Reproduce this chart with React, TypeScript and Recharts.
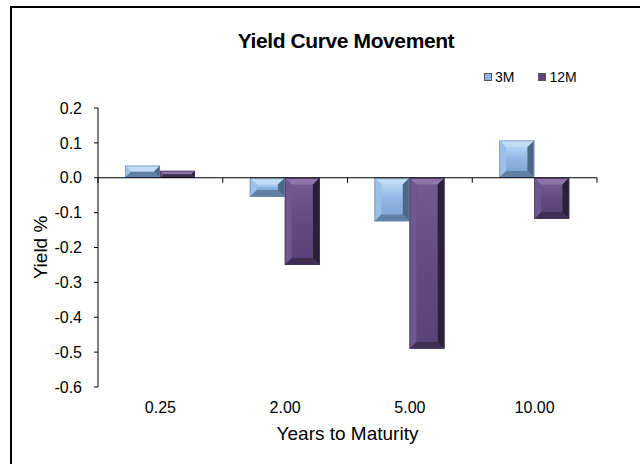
import React from "react";
import { BarChart, Bar, XAxis, YAxis, ReferenceLine } from "recharts";

const CATEGORIES = ["0.25", "2.00", "5.00", "10.00"];
const SERIES_3M = [0.035, -0.055, -0.125, 0.107];
const SERIES_12M = [0.02, -0.25, -0.49, -0.118];
const Y_TICKS = [0.2, 0.1, 0, -0.1, -0.2, -0.3, -0.4, -0.5, -0.6];

const data = CATEGORIES.map((c, i) => ({ maturity: c, m3: SERIES_3M[i], m12: SERIES_12M[i] }));

const FONT = "'Liberation Sans', Arial, sans-serif";

// bevel palettes, Excel-ish "cool slant" look
const BLUE = { face: "#8fb6e3", top: "#c3dcf6", left: "#9dc0e8", right: "#4b6887", bottom: "#5f7fa3", edge: "#6f8fb3", id: "g3m", hi: "#b4d4f5" };
const PURPLE = { face: "#634b80", top: "#8e76aa", left: "#6f5890", right: "#2b2038", bottom: "#3f3053", edge: "#4a3862", id: "g12m", hi: "#705a8e" };

function bevel(p: typeof BLUE) {
  return (props: any) => {
    let { x, y, width: w, height: h } = props;
    if (h < 0) {
      y += h;
      h = -h;
    }
    if (!w || !h) return <g />;
    const b = Math.min(7, w / 2, h / 2);
    const x2 = x + w;
    const y2 = y + h;
    return (
      <g>
        <rect x={x} y={y} width={w} height={h} fill={p.face} />
        <polygon points={`${x},${y} ${x2},${y} ${x2 - b},${y + b} ${x + b},${y + b}`} fill={p.top} />
        <polygon points={`${x},${y} ${x + b},${y + b} ${x + b},${y2 - b} ${x},${y2}`} fill={p.left} />
        <polygon points={`${x2},${y} ${x2},${y2} ${x2 - b},${y2 - b} ${x2 - b},${y + b}`} fill={p.right} />
        <polygon points={`${x},${y2} ${x + b},${y2 - b} ${x2 - b},${y2 - b} ${x2},${y2}`} fill={p.bottom} />
        <rect x={x + b} y={y + b} width={Math.max(0, w - 2 * b)} height={Math.max(0, h - 2 * b)} fill={`url(#${p.id})`} />
        <rect x={x + 0.5} y={y + 0.5} width={w - 1} height={h - 1} fill="none" stroke={p.edge} strokeWidth={0.6} />
      </g>
    );
  };
}

// zero line doubles as the category axis: line + tick marks between groups
const ZeroAxis = (props: any) => {
  const { x1, y1, x2 } = props;
  if (x1 == null) return <g />;
  const n = CATEGORIES.length;
  const step = (x2 - x1) / n;
  return (
    <g>
      <line x1={x1} y1={y1} x2={x2} y2={y1} stroke="#000" strokeWidth={1} />
      {Array.from({ length: n + 1 }, (_, i) => (
        <line key={i} x1={x1 + i * step} y1={y1} x2={x1 + i * step} y2={y1 + 5} stroke="#000" strokeWidth={1} />
      ))}
    </g>
  );
};

const LegendItem = ({ color, label }: { color: string; label: string }) => (
  <span style={{ display: "inline-flex", alignItems: "center", marginRight: 24 }}>
    <span style={{ width: 6, height: 6, background: color, border: "0.5px solid #555", marginRight: 3 }} />
    {label}
  </span>
);

export default function App() {
  return (
    <div style={{ position: "absolute", left: 0, top: 0, width: 640, height: 464, background: "#fff", overflow: "hidden", fontFamily: FONT }}>
      <div style={{ position: "absolute", left: 10, top: 6, width: 700, height: 500, borderLeft: "2px solid #000", borderTop: "2px solid #000" }} />
      <div style={{ position: "absolute", left: 10, width: 672, top: 29, textAlign: "center", fontWeight: "bold", fontSize: 21, letterSpacing: -0.4 }}>
        Yield Curve Movement
      </div>
      <div style={{ position: "absolute", left: 484, top: 69, fontSize: 14, display: "flex" }}>
        <LegendItem color="#8fb6e3" label="3M" />
        <LegendItem color="#5a4478" label="12M" />
      </div>
      <BarChart
        width={640}
        height={464}
        data={data}
        margin={{ top: 108, right: 43, left: 0, bottom: 47 }}
        barSize={35}
        barGap={0}
        style={{ position: "absolute", left: 0, top: 0 }}
      >
        <defs>
          <linearGradient id="g3m" x1="0" y1="0" x2="0" y2="1">
            <stop offset="0" stopColor={BLUE.hi} />
            <stop offset="0.5" stopColor={BLUE.face} />
            <stop offset="1" stopColor="#82a8d5" />
          </linearGradient>
          <linearGradient id="g12m" x1="0" y1="0" x2="0" y2="1">
            <stop offset="0" stopColor={PURPLE.hi} />
            <stop offset="0.5" stopColor={PURPLE.face} />
            <stop offset="1" stopColor="#5a4477" />
          </linearGradient>
        </defs>
        <XAxis
          dataKey="maturity"
          axisLine={false}
          tickLine={false}
          tickSize={6}
          tickMargin={9}
          height={30}
          tick={{ fill: "#000", fontSize: 16, fontFamily: FONT }}
          label={{ value: "Years to Maturity", position: "bottom", offset: 10, fill: "#000", fontSize: 19, fontFamily: FONT }}
        />
        <YAxis
          width={98}
          domain={[-0.6, 0.2]}
          ticks={Y_TICKS}
          interval={0}
          tickFormatter={(v: number) => v.toFixed(1)}
          tickSize={4}
          tickMargin={12}
          axisLine={{ stroke: "#000" }}
          tickLine={{ stroke: "#000" }}
          tick={{ fill: "#000", fontSize: 16, fontFamily: FONT }}
          label={{ value: "Yield %", angle: -90, position: "insideLeft", offset: 40, fill: "#000", fontSize: 19, fontFamily: FONT, style: { textAnchor: "middle" } }}
        />
        <Bar dataKey="m3" name="3M" isAnimationActive={false} shape={bevel(BLUE)} />
        <Bar dataKey="m12" name="12M" isAnimationActive={false} shape={bevel(PURPLE)} />
        <ReferenceLine y={0} shape={ZeroAxis} />
      </BarChart>
    </div>
  );
}
